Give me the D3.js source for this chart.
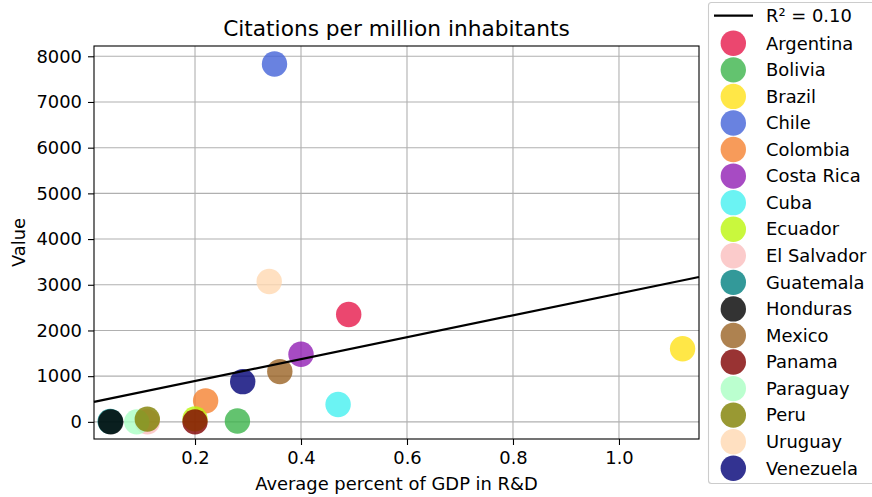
<!DOCTYPE html>
<html>
<head>
<meta charset="utf-8">
<script src="https://cdn.jsdelivr.net/npm/d3@7"></script>
<style>
  body { margin: 0; background: #fff; }
  svg { font-family: "DejaVu Sans", sans-serif; display: block; }
</style>
</head>
<body>
<svg id="chart" width="872" height="497"></svg>
<script>
const countries = ["Argentina", "Bolivia", "Brazil", "Chile", "Colombia", "Costa Rica", "Cuba", "Ecuador",
    "El Salvador", "Guatemala", "Honduras", "Mexico", "Panama", "Paraguay", "Peru", "Uruguay", "Venezuela"];
const gdpRD = [0.49, 0.28, 1.12, 0.35, 0.22, 0.40, 0.47, 0.20, 0.11, 0.04, 0.041, 0.36, 0.20, 0.09, 0.11, 0.34, 0.29];
const citations = [2350, 20, 1600, 7830, 460, 1480, 380, 65, 0, 10, 0, 1100, 0, 0, 60, 3070, 880];
const colours = ["#e6194b", "#3cb44b", "#ffe119", "#4363d8", "#f58231", "#911eb4", "#46f0f0", "#bcf60c",
    "#fabebe", "#008080", "#000000", "#9a6324", "#800000", "#aaffc3", "#808000", "#ffd8b1", "#000075"];
const xTicks = [0.2, 0.4, 0.6, 0.8, 1.0];
const yTicks = [0, 1000, 2000, 3000, 4000, 5000, 6000, 7000, 8000];
const fitLabel = "R\u00b2 = 0.10";

const data = countries.map((c, i) => ({ country: c, x: gdpRD[i], y: citations[i], colour: colours[i] }));

const svg = d3.select("#chart");
const margin = { left: 94, right: 173, top: 46, bottom: 58 };
const width = 872 - margin.left - margin.right;
const height = 497 - margin.top - margin.bottom;
const fontSize = 17.9;

const x = d3.scaleLinear().domain([0.0094, 1.151]).range([0, width]);
const y = d3.scaleLinear().domain([-375, 8225]).range([height, 0]);

const g = svg.append("g").attr("transform", `translate(${margin.left},${margin.top})`);

// grid
g.selectAll(".xgrid").data(xTicks).join("line")
    .attr("x1", d => x(d)).attr("x2", d => x(d))
    .attr("y1", 0).attr("y2", height)
    .attr("stroke", "#b0b0b0").attr("stroke-width", 1.1);
g.selectAll(".ygrid").data(yTicks).join("line")
    .attr("y1", d => y(d)).attr("y2", d => y(d))
    .attr("x1", 0).attr("x2", width)
    .attr("stroke", "#b0b0b0").attr("stroke-width", 1.1);

// regression line (least squares on data)
const mx = d3.mean(data, d => d.x), my = d3.mean(data, d => d.y);
const slope = d3.sum(data, d => (d.x - mx) * (d.y - my)) / d3.sum(data, d => (d.x - mx) ** 2);
const intercept = my - slope * mx;

// points
g.selectAll(".dot").data(data).join("circle")
    .attr("cx", d => x(d.x)).attr("cy", d => y(d.y))
    .attr("r", 12.7)
    .attr("fill", d => d.colour).attr("fill-opacity", 0.8);

const xd = x.domain();
g.append("line")
    .attr("x1", x(xd[0])).attr("x2", x(xd[1]))
    .attr("y1", y(intercept + slope * xd[0])).attr("y2", y(intercept + slope * xd[1]))
    .attr("stroke", "black").attr("stroke-width", 2.2);

// axes
const xAxis = g.append("g").attr("transform", `translate(0,${height})`)
    .call(d3.axisBottom(x).tickValues(xTicks).tickFormat(d3.format(".1f")).tickSize(6).tickPadding(6));
const yAxis = g.append("g")
    .call(d3.axisLeft(y).tickValues(yTicks).tickFormat(d => d).tickSize(6).tickPadding(6));
[xAxis, yAxis].forEach(a => {
    a.select(".domain").remove();
    a.selectAll("text").attr("font-size", fontSize).attr("font-family", "DejaVu Sans").attr("fill", "black");
    a.selectAll("line").attr("stroke-width", 1.1);
});

g.append("rect").attr("width", width).attr("height", height)
    .attr("fill", "none").attr("stroke", "black").attr("stroke-width", 1.1);

svg.append("text")
    .attr("x", margin.left + width / 2).attr("y", 35.5)
    .attr("text-anchor", "middle").attr("font-size", 21.7)
    .text("Citations per million inhabitants");
svg.append("text")
    .attr("x", margin.left + width / 2).attr("y", 490)
    .attr("text-anchor", "middle").attr("font-size", fontSize)
    .text("Average percent of GDP in R&D");
svg.append("text")
    .attr("transform", `translate(25,${margin.top + height / 2}) rotate(-90)`)
    .attr("text-anchor", "middle").attr("font-size", fontSize)
    .text("Value");

// legend
const legend = svg.append("g");
legend.append("rect")
    .attr("x", 708.5).attr("y", 2.5).attr("width", 180).attr("height", 481)
    .attr("rx", 3).attr("fill", "white").attr("fill-opacity", 0.8)
    .attr("stroke", "#cccccc").attr("stroke-width", 1.1);
legend.append("line")
    .attr("x1", 714).attr("x2", 753).attr("y1", 15.7).attr("y2", 15.7)
    .attr("stroke", "black").attr("stroke-width", 2.2);
legend.append("text")
    .attr("x", 766).attr("y", 15.7).attr("dy", "0.35em")
    .attr("font-size", fontSize).text(fitLabel);
const rowY = i => 43.3 + i * 26.56;
legend.selectAll(".lg-dot").data(data).join("circle")
    .attr("cx", 733.3).attr("cy", (d, i) => rowY(i)).attr("r", 12.7)
    .attr("fill", d => d.colour).attr("fill-opacity", 0.8);
legend.selectAll(".lg-text").data(data).join("text")
    .attr("x", 766).attr("y", (d, i) => rowY(i)).attr("dy", "0.35em")
    .attr("font-size", fontSize).text(d => d.country);
</script>
</body>
</html>
